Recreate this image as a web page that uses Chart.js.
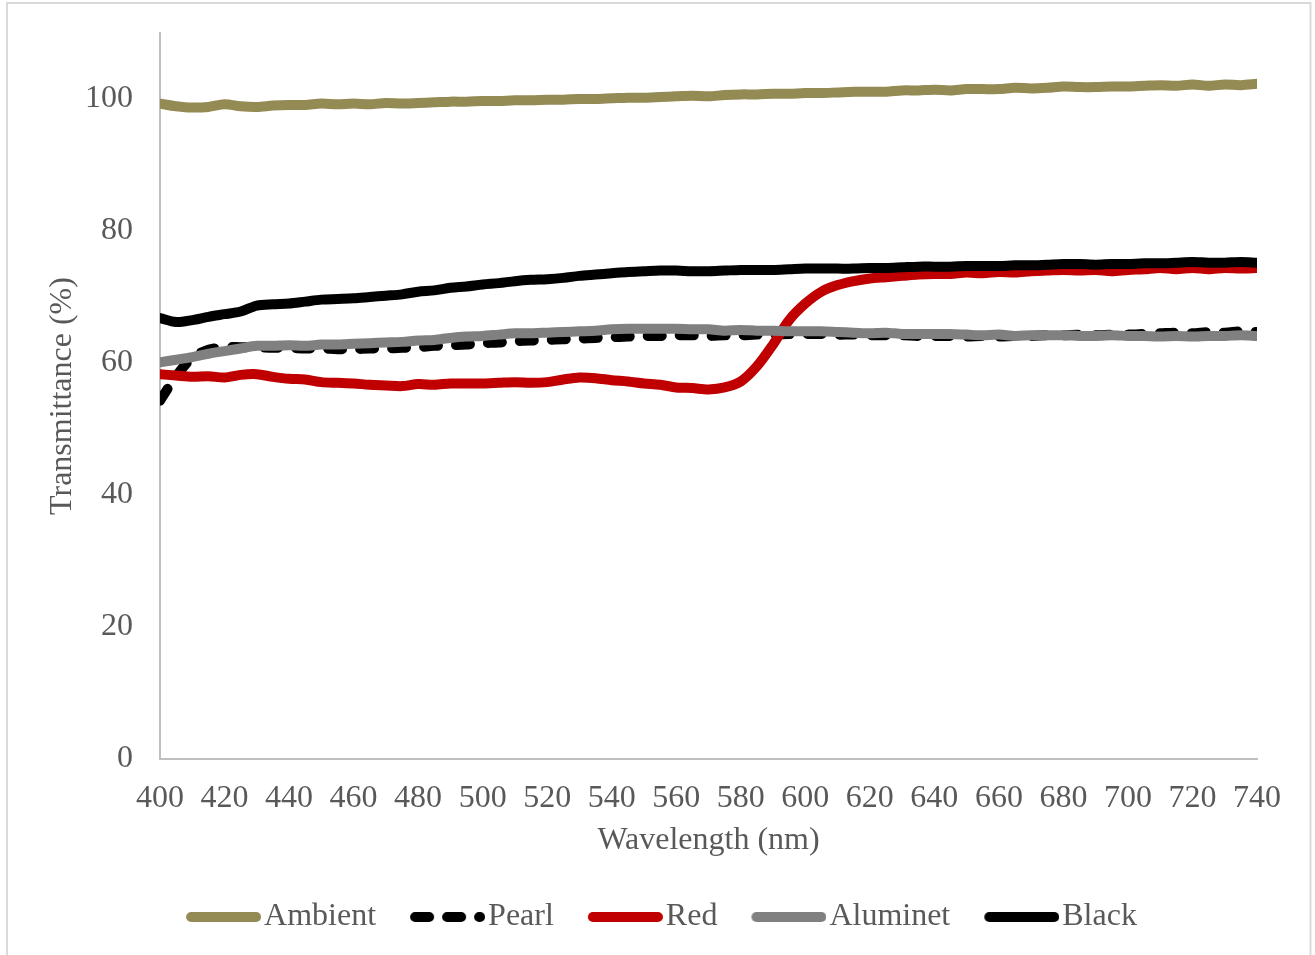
<!DOCTYPE html>
<html>
<head>
<meta charset="utf-8">
<title>Transmittance spectra</title>
<script src="https://cdn.jsdelivr.net/npm/chart.js@4.4.1/dist/chart.umd.min.js"></script>
<style>
  html, body { margin: 0; padding: 0; background: #ffffff; }
  #wrap { position: relative; width: 1315px; height: 955px; }
</style>
</head>
<body>
<div id="wrap"><canvas id="chart" width="1315" height="955"></canvas></div>
<script>
// Wavelength grid (nm)
const wavelength = [400,405,410,415,420,425,430,435,440,445,450,455,460,465,470,475,480,485,490,495,
  500,505,510,515,520,525,530,535,540,545,550,555,560,565,570,575,580,585,590,595,
  600,605,610,615,620,625,630,635,640,645,650,655,660,665,670,675,680,685,690,695,
  700,705,710,715,720,725,730,735,740];

// Transmittance (%) per shade material
const ambient = [99.3,98.9,98.7,98.8,99.2,98.9,98.8,99.0,99.1,99.1,99.3,99.2,99.3,99.2,99.4,99.3,99.4,99.5,99.6,99.6,
  99.7,99.7,99.8,99.8,99.9,99.9,100.0,100.0,100.1,100.2,100.2,100.3,100.4,100.5,100.4,100.6,100.7,100.7,100.8,100.8,
  100.9,100.9,101.0,101.1,101.1,101.1,101.3,101.3,101.4,101.3,101.5,101.5,101.5,101.7,101.6,101.7,101.9,101.8,101.8,101.9,
  101.9,102.0,102.1,102.0,102.2,102.0,102.2,102.1,102.3];

const pearl = [54.3,58.0,60.8,62.0,62.4,62.4,62.4,62.3,62.3,62.2,62.2,62.1,62.1,62.2,62.2,62.3,62.4,62.6,62.7,62.8,
  63.0,63.1,63.3,63.4,63.5,63.6,63.7,63.8,63.9,64.0,64.1,64.1,64.2,64.2,64.1,64.2,64.2,64.3,64.3,64.4,
  64.4,64.4,64.3,64.3,64.2,64.2,64.2,64.1,64.1,64.1,64.0,64.1,64.0,64.1,64.1,64.2,64.2,64.3,64.2,64.3,
  64.3,64.4,64.5,64.6,64.5,64.7,64.6,64.8,64.7];

const red = [58.3,58.1,57.9,58.0,57.8,58.2,58.3,57.9,57.6,57.5,57.1,57.0,56.9,56.7,56.6,56.5,56.8,56.7,56.9,56.9,
  56.9,57.0,57.1,57.0,57.1,57.5,57.8,57.7,57.4,57.2,56.9,56.7,56.3,56.2,56.0,56.3,57.2,59.5,62.8,66.5,
  69.0,70.8,71.8,72.4,72.8,73.0,73.2,73.4,73.5,73.5,73.7,73.6,73.8,73.7,73.9,74.0,74.1,74.0,74.1,73.9,
  74.1,74.2,74.4,74.2,74.4,74.2,74.4,74.3,74.4];

const aluminet = [60.1,60.5,60.9,61.4,61.8,62.2,62.6,62.6,62.7,62.6,62.8,62.8,62.9,63.0,63.1,63.2,63.4,63.5,63.8,64.0,
  64.1,64.3,64.5,64.5,64.6,64.7,64.8,64.9,65.1,65.2,65.2,65.2,65.2,65.1,65.1,64.9,65.0,64.9,64.9,64.8,
  64.8,64.8,64.7,64.6,64.5,64.6,64.4,64.4,64.4,64.4,64.3,64.2,64.3,64.1,64.2,64.2,64.2,64.1,64.1,64.2,
  64.1,64.1,64.0,64.1,64.0,64.1,64.1,64.2,64.1];

const black = [66.8,66.2,66.5,67.0,67.4,67.8,68.7,68.9,69.0,69.3,69.6,69.7,69.8,70.0,70.2,70.4,70.8,71.0,71.4,71.6,
  71.9,72.1,72.4,72.6,72.7,72.9,73.2,73.4,73.6,73.8,73.9,74.0,74.0,73.9,73.9,74.0,74.1,74.1,74.1,74.2,
  74.3,74.3,74.3,74.3,74.4,74.4,74.5,74.6,74.6,74.6,74.7,74.7,74.7,74.8,74.8,74.9,75.0,75.0,74.9,75.0,
  75.0,75.1,75.1,75.2,75.3,75.2,75.2,75.3,75.2];

// Axis tick labels
const xTicks = [400,420,440,460,480,500,520,540,560,580,600,620,640,660,680,700,720,740];
const yTicks = [0,20,40,60,80,100];

const pairs = (ys) => wavelength.map((x, i) => ({ x: x, y: ys[i] }));

const textColor = '#595959';
const axisColor = '#bfbfbf';
const serif = "'Liberation Serif', 'Times New Roman', serif";
const LINE_W = 10;
const PEARL_DASH = [14, 18];
const SWATCH_LEN = 75;      // visible legend line length
const SWATCH_BOX = 71;      // legend box width
const SWATCH_W = SWATCH_BOX + 26;

// Light frame around the whole chart
const frame = {
  id: 'frame',
  beforeDraw(chart) {
    const ctx = chart.ctx;
    ctx.save();
    ctx.fillStyle = '#ffffff';
    ctx.fillRect(0, 0, chart.width, chart.height);
    ctx.strokeStyle = '#d9d9d9';
    ctx.lineWidth = 2;
    ctx.strokeRect(7, 3, 1303.5, 1000);
    ctx.restore();
  }
};

// Line swatch for a legend entry, in the series' colour and dash,
// sitting flush against the label text
function swatch(color, dash) {
  const c = document.createElement('canvas');
  c.width = SWATCH_W;
  c.height = 14;
  const g = c.getContext('2d');
  g.strokeStyle = color;
  g.lineWidth = LINE_W;
  g.lineCap = 'round';
  g.setLineDash(dash || []);
  g.beginPath();
  g.moveTo(SWATCH_W - SWATCH_LEN + LINE_W / 2, 7);
  g.lineTo(SWATCH_W - LINE_W / 2, 7);
  g.stroke();
  return c;
}

function series(label, ys, color, order, dash) {
  return {
    label: label,
    data: pairs(ys),
    borderColor: color,
    backgroundColor: color,
    borderWidth: LINE_W,
    borderCapStyle: 'round',
    borderJoinStyle: 'round',
    borderDash: dash || [],
    pointRadius: 0,
    pointHoverRadius: 0,
    tension: 0.3,
    fill: false,
    order: order
  };
}

const noEdgePadding = (s) => { s.paddingTop = 0; s.paddingBottom = 0; };

new Chart(document.getElementById('chart'), {
  type: 'line',
  data: {
    datasets: [
      series('Ambient', ambient, '#948a54', 5),
      series('Pearl', pearl, '#000000', 4, PEARL_DASH),
      series('Red', red, '#c00000', 3),
      series('Aluminet', aluminet, '#808080', 2),
      series('Black', black, '#000000', 1)
    ]
  },
  options: {
    responsive: false,
    animation: false,
    devicePixelRatio: 1,
    layout: { padding: { top: 33, left: 5, right: 6, bottom: 12 } },
    scales: {
      x: {
        type: 'linear',
        min: 400,
        max: 740,
        grid: { display: false, drawTicks: false },
        border: { display: true, color: axisColor, width: 2 },
        afterBuildTicks: (s) => { s.ticks = xTicks.map(v => ({ value: v })); },
        afterFit: (s) => { s.height = 117; },
        ticks: {
          autoSkip: false,
          maxRotation: 0,
          padding: 20,
          color: textColor,
          font: { family: serif, size: 32 }
        },
        title: {
          display: true,
          text: 'Wavelength (nm)',
          color: textColor,
          font: { family: serif, size: 32 },
          padding: { top: 4, bottom: 16 }
        }
      },
      y: {
        type: 'linear',
        position: 'left',
        min: 0,
        max: 110,
        grid: { display: false, drawTicks: false },
        border: { display: true, color: axisColor, width: 2 },
        afterBuildTicks: (s) => { s.ticks = yTicks.map(v => ({ value: v })); },
        afterFit: (s) => { s.width = 155; noEdgePadding(s); },
        ticks: {
          padding: 27,
          color: textColor,
          font: { family: serif, size: 32 }
        },
        title: {
          display: true,
          text: 'Transmittance (%)',
          color: textColor,
          font: { family: serif, size: 32 },
          padding: { top: 38, bottom: 4 }
        }
      },
      yRight: {
        type: 'linear',
        position: 'right',
        display: true,
        grid: { display: false, drawTicks: false },
        border: { display: false },
        ticks: { display: false },
        afterFit: (s) => { s.width = 52; noEdgePadding(s); }
      }
    },
    plugins: {
      legend: {
        position: 'bottom',
        labels: {
          usePointStyle: true,
          pointStyleWidth: SWATCH_BOX,
          padding: 25,
          color: textColor,
          font: { family: serif, size: 32 },
          sort: (a, b) => a.datasetIndex - b.datasetIndex,
          generateLabels: (chart) => {
            const items = Chart.defaults.plugins.legend.labels.generateLabels(chart);
            items.forEach((it) => {
              const ds = chart.data.datasets[it.datasetIndex];
              it.pointStyle = swatch(ds.borderColor, ds.borderDash);
            });
            return items;
          }
        }
      },
      tooltip: { enabled: false }
    }
  },
  plugins: [frame]
});
</script>
</body>
</html>
